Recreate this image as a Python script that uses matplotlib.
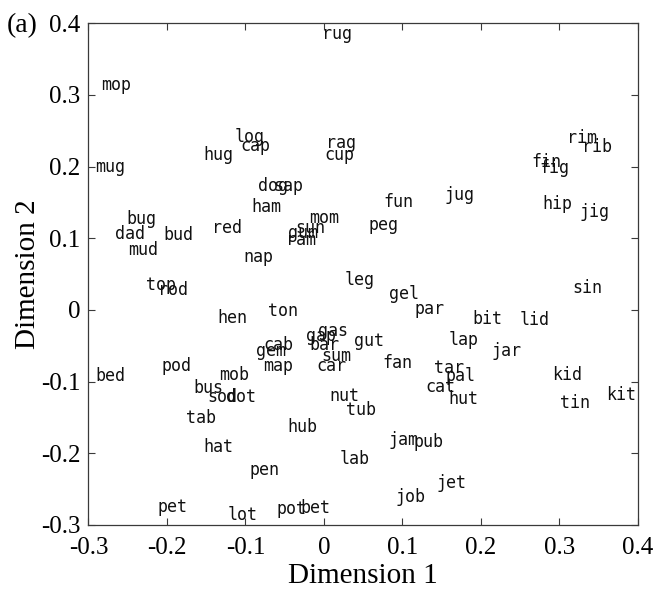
import matplotlib
matplotlib.use("Agg")
import matplotlib.pyplot as plt

# Word positions in the two-dimensional embedding
words = [
    "rug", "mop", "mug", "log", "cap", "hug", "rag", "cup", "dog", "sap",
    "ham", "bug", "dad", "bud", "mud", "red", "nap", "mom", "sun", "gum",
    "ram", "fun", "jug", "peg", "rim", "rib", "fin", "fig", "hip", "jig",
    "top", "rod", "hen", "ton", "gas", "gap", "bar", "cab", "gem", "sum",
    "map", "car", "pod", "bed", "mob", "bus", "sod", "dot", "tab", "nut",
    "hub", "hat", "lab", "pen", "pet", "lot", "pot", "bet", "leg", "gel",
    "par", "bit", "lid", "sin", "gut", "lap", "jar", "fan", "tar", "pal",
    "cat", "hut", "kid", "kit", "tin", "tub", "jam", "pub", "job", "jet",
]
dim1 = [
    -0.002, -0.284, -0.291, -0.114, -0.107, -0.153, 0.003, 0.001, -0.084, -0.065,
    -0.092, -0.252, -0.266, -0.205, -0.250, -0.142, -0.103, -0.019, -0.037, -0.046,
    -0.048, 0.076, 0.154, 0.057, 0.310, 0.329, 0.265, 0.275, 0.279, 0.326,
    -0.227, -0.211, -0.136, -0.071, -0.007, -0.023, -0.018, -0.077, -0.087, -0.003,
    -0.077, -0.010, -0.207, -0.291, -0.134, -0.166, -0.149, -0.125, -0.176, 0.007,
    -0.046, -0.154, 0.020, -0.095, -0.212, -0.123, -0.060, -0.030, 0.026, 0.083,
    0.115, 0.189, 0.249, 0.317, 0.038, 0.159, 0.214, 0.074, 0.140, 0.155,
    0.130, 0.159, 0.291, 0.360, 0.301, 0.028, 0.083, 0.114, 0.091, 0.143,
]
dim2 = [
    0.385, 0.314, 0.200, 0.241, 0.229, 0.216, 0.233, 0.216, 0.173, 0.173,
    0.144, 0.127, 0.106, 0.105, 0.083, 0.114, 0.074, 0.128, 0.114, 0.107,
    0.098, 0.151, 0.160, 0.119, 0.240, 0.227, 0.206, 0.198, 0.148, 0.137,
    0.035, 0.028, -0.012, -0.002, -0.030, -0.037, -0.049, -0.049, -0.058, -0.064,
    -0.079, -0.079, -0.079, -0.093, -0.091, -0.109, -0.122, -0.122, -0.151, -0.120,
    -0.163, -0.192, -0.208, -0.224, -0.275, -0.287, -0.278, -0.277, 0.041, 0.022,
    0.001, -0.013, -0.014, 0.030, -0.044, -0.042, -0.057, -0.074, -0.081, -0.092,
    -0.108, -0.125, -0.091, -0.119, -0.130, -0.140, -0.181, -0.184, -0.261, -0.242,
]
xticks = [-0.3, -0.2, -0.1, 0, 0.1, 0.2, 0.3, 0.4]
yticks = [-0.3, -0.2, -0.1, 0, 0.1, 0.2, 0.3, 0.4]
xtick_labels = ["-0.3", "-0.2", "-0.1", "0", "0.1", "0.2", "0.3", "0.4"]
ytick_labels = ["-0.3", "-0.2", "-0.1", "0", "0.1", "0.2", "0.3", "0.4"]

serif = ["Liberation Serif", "DejaVu Serif"]
edge = "#3a3a3a"

fig = plt.figure(figsize=(6.53, 5.89), dpi=100)
ax = fig.add_axes([0.1355, 0.109, 0.8410, 0.8515])

for w, x, y in zip(words, dim1, dim2):
    ax.text(x, y, w, ha="left", va="center", fontsize=12,
            family="DejaVu Sans Mono", color="#111111")

ax.set_xlim(-0.3, 0.4)
ax.set_ylim(-0.3, 0.4)
ax.set_xticks(xticks)
ax.set_xticklabels(xtick_labels)
ax.set_yticks(yticks)
ax.set_yticklabels(ytick_labels)
ax.tick_params(direction="in", length=5, width=0.8, color=edge,
               top=True, right=True, labelsize=18)
ax.tick_params(axis="x", pad=9)
ax.tick_params(axis="y", pad=6)
for lab in ax.get_xticklabels() + ax.get_yticklabels():
    lab.set_family(serif)
for sp in ax.spines.values():
    sp.set_color(edge)
    sp.set_linewidth(0.9)

ax.set_xlabel("Dimension 1", family=serif, fontsize=21, labelpad=3)
ax.set_ylabel("Dimension 2", family=serif, fontsize=21, labelpad=-0.5)
fig.text(0.010, 0.957, "(a)", family=serif, fontsize=20, ha="left", va="center")

fig.savefig("out.png", dpi=100)
